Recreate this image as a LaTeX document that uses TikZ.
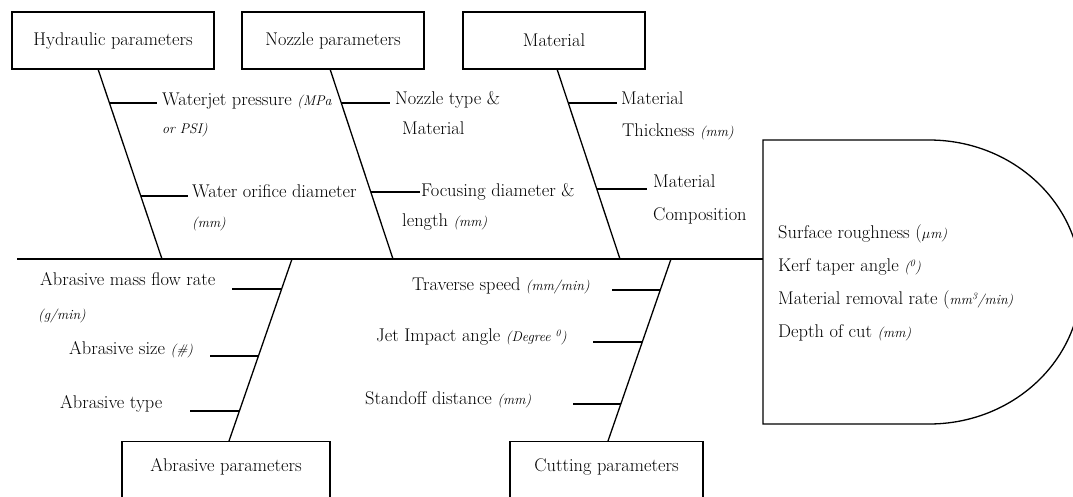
\documentclass[tikz,border=0pt]{standalone}
\usepackage{fontspec}
\usetikzlibrary{calc}
\newcommand\annot[1]{{\fontsize{14}{16}\selectfont\itshape #1}}
\tikzset{
  cat/.style={draw, line width=1.3pt, minimum height=57pt, inner sep=0pt, font=\fontsize{18.4}{21}\selectfont},
  lbl/.style={anchor=west, inner sep=0pt, text height=13pt, text depth=4pt, font=\fontsize{18.4}{21}\selectfont},
  bone/.style={line width=1.3pt},
  tick/.style={line width=1.3pt}
}
\begin{document}
\begin{tikzpicture}[x=1pt,y=-1pt]
\useasboundingbox (0,0) rectangle (1073,496);
\clip (0,0) rectangle (1073,496);
\fill[white] (0,0) rectangle (1073,496);

% category boxes
\node[cat, minimum width=202pt] (hyd) at (113,40.5) {Hydraulic parameters};
\node[cat, minimum width=182pt] (noz) at (333,40.5) {Nozzle parameters};
\node[cat, minimum width=182pt] (mat) at (554,40.5) {Material};
\node[cat, anchor=north, minimum width=208pt, minimum height=80pt] (abr) at (226,441) {};
\node[lbl, anchor=center] (abrt) at (226,467) {Abrasive parameters};
\node[cat, anchor=north, minimum width=193pt, minimum height=80pt] (cut) at (606.5,441) {};
\node[lbl, anchor=center] (cutt) at (606.5,467) {Cutting parameters};

% spine and result box
\coordinate (spL) at (17,259);
\coordinate (spR) at (763,259);
\draw[bone] (spL) -- (spR);
\draw[line width=1.3pt] (763,140) -- (929,140)
  arc[start angle=90, end angle=-90, x radius=152pt, y radius=142pt]
  -- (763,424) -- cycle;

% bones
\coordinate (hydT) at (98,69);   \coordinate (hydB) at (162,259);
\coordinate (nozT) at (330,69);  \coordinate (nozB) at (393,259);
\coordinate (matT) at (557,69);  \coordinate (matB) at (620,259);
\coordinate (abrT) at (292,259); \coordinate (abrB) at (229,441);
\coordinate (cutT) at (671,259); \coordinate (cutB) at (608,441);
\draw[bone] (hydT) -- (hydB);
\draw[bone] (nozT) -- (nozB);
\draw[bone] (matT) -- (matB);
\draw[bone] (abrT) -- (abrB);
\draw[bone] (cutT) -- (cutB);

% ticks
\coordinate (h1a) at (109.5,103); \coordinate (h1b) at (157,103);
\coordinate (h2a) at (140.8,196); \coordinate (h2b) at (188,196);
\coordinate (n1a) at (341.3,103); \coordinate (n1b) at (390,103);
\coordinate (n2a) at (370.8,192); \coordinate (n2b) at (420,192);
\coordinate (m1a) at (568.3,103); \coordinate (m1b) at (617,103);
\coordinate (m2a) at (596.8,189); \coordinate (m2b) at (647,189);
\coordinate (a1a) at (281.6,289); \coordinate (a1b) at (232,289);
\coordinate (a2a) at (258.4,356); \coordinate (a2b) at (210,356);
\coordinate (a3a) at (239.4,411); \coordinate (a3b) at (190,411);
\coordinate (c1a) at (660.3,290); \coordinate (c1b) at (612,290);
\coordinate (c2a) at (642.3,342); \coordinate (c2b) at (593,342);
\coordinate (c3a) at (620.8,404); \coordinate (c3b) at (573,404);
\foreach \t in {h1,h2,n1,n2,m1,m2,a1,a2,a3,c1,c2,c3}
  \draw[tick] (\t a) -- (\t b);

% labels top
\node[lbl] (t1) at (162,101) {Waterjet pressure \annot{(MPa}};
\node[lbl] (t2) at (162,129) {\annot{or PSI)}};
\node[lbl] (t3) at (192,193) {Water orifice diameter};
\node[lbl] (t4) at (192,223) {\annot{(mm)}};
\node[lbl] (t5) at (395,100) {Nozzle type \&};
\node[lbl] (t6) at (402,130) {Material};
\node[lbl] (t7) at (421,192) {Focusing diameter \&};
\node[lbl] (t8) at (402,222) {length \annot{(mm)}};
\node[lbl] (t9) at (621,100) {Material};
\node[lbl] (t10) at (622,132) {Thickness \annot{(mm)}};
\node[lbl] (t11) at (653,183) {Material};
\node[lbl] (t12) at (653,216) {Composition};

% labels bottom
\node[lbl] (b1) at (40,281) {Abrasive mass flow rate};
\node[lbl] (b2) at (38,315) {\annot{(g/min)}};
\node[lbl] (b3) at (69,350) {Abrasive size \annot{(\#)}};
\node[lbl] (b4) at (60,404) {Abrasive type};
\node[lbl] (b5) at (412,286) {Traverse speed \annot{(mm/min)}};
\node[lbl] (b6) at (376,337) {Jet Impact angle \annot{(Degree \textsuperscript{0})}};
\node[lbl] (b7) at (365,400) {Standoff distance \annot{(mm)}};

% result
\node[lbl] (r1) at (778,234) {Surface roughness ({\fontsize{15}{16}\selectfont$\mu$}\annot{m)}};
\node[lbl] (r2) at (778,267) {Kerf taper angle \annot{(\textsuperscript{0})}};
\node[lbl] (r3) at (778,300) {Material removal rate (\annot{mm\textsuperscript{3}/min)}};
\node[lbl] (r4) at (778,333) {Depth of cut \annot{(mm)}};
\end{tikzpicture}
\end{document}
